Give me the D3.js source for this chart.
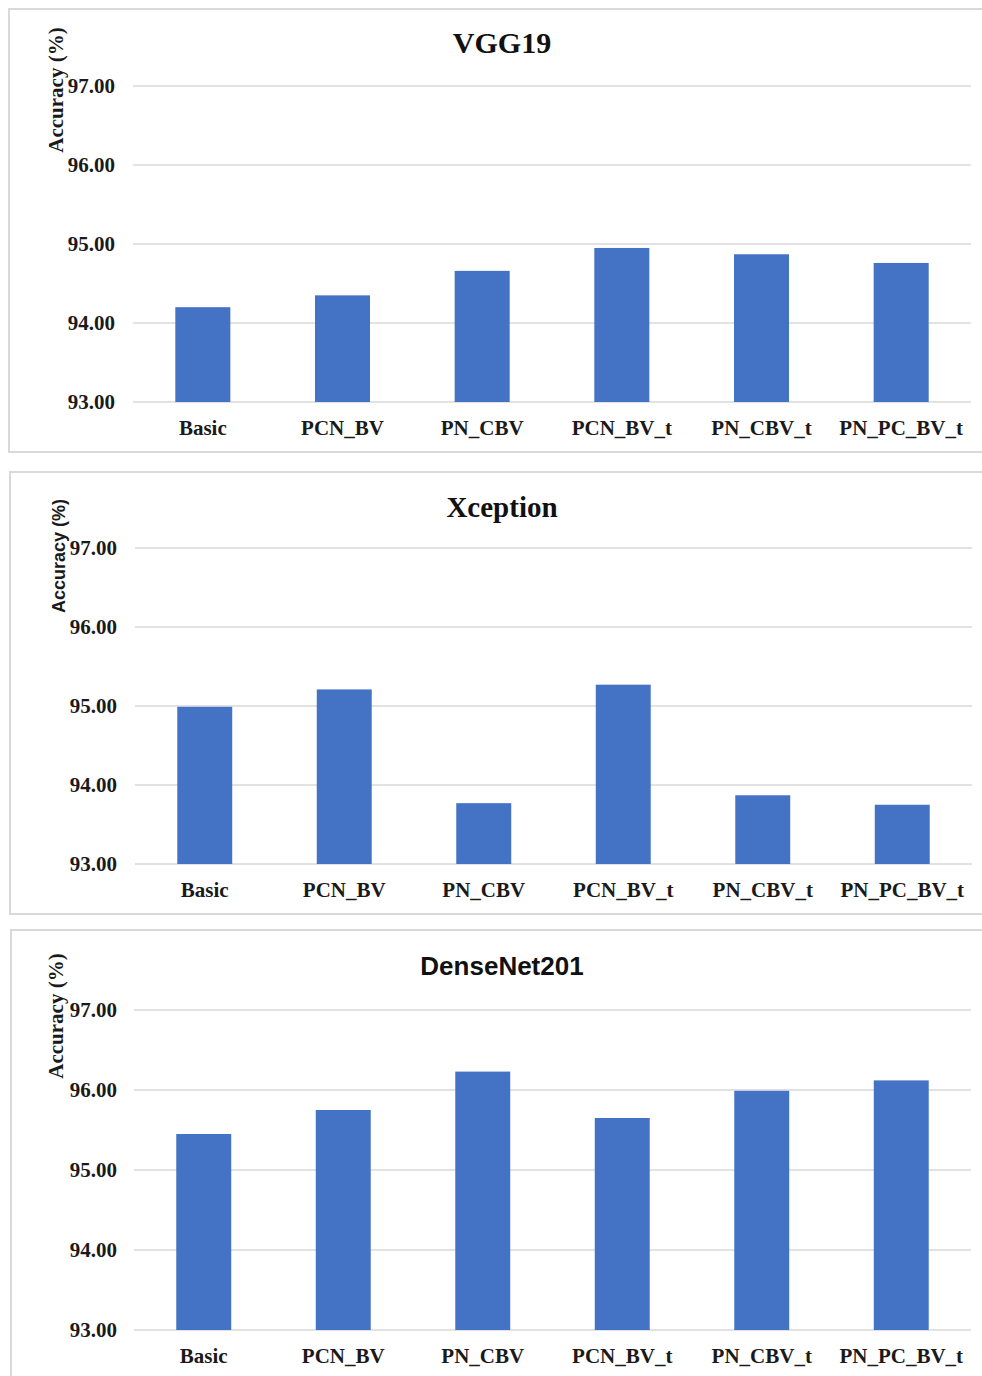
<!DOCTYPE html>
<html>
<head>
<meta charset="utf-8">
<script src="https://cdn.jsdelivr.net/npm/d3@7"></script>
<style>
  html, body { margin: 0; padding: 0; background: #ffffff; }
  svg { display: block; }
</style>
</head>
<body>
<svg id="chart" width="982" height="1376"></svg>
<script>
// ---- data ----
const categories = ["Basic", "PCN_BV", "PN_CBV", "PCN_BV_t", "PN_CBV_t", "PN_PC_BV_t"];
const vgg19Values = [94.20, 94.35, 94.66, 94.95, 94.87, 94.76];
const xceptionValues = [94.99, 95.21, 93.77, 95.27, 93.87, 93.75];
const densenetValues = [95.45, 95.75, 96.23, 95.65, 95.99, 96.12];
const yTicks = [93, 94, 95, 96, 97];
const titles = ["VGG19", "Xception", "DenseNet201"];
const yLabel = "Accuracy (%)";

// ---- layout (per panel) ----
const serif = "'Liberation Serif', 'Times New Roman', serif";
const sans = "'Liberation Sans', Arial, sans-serif";
const panels = [
  { title: titles[0], values: vgg19Values, box: [9, 9, 982, 443], y: [402, 86], x: [133, 971],
    tickRight: 115, titleY: 53, titleFont: serif, titleSize: 30,
    labFont: serif, labSize: 21, labX: 63, labY: 90 },
  { title: titles[1], values: xceptionValues, box: [10, 472, 982, 442], y: [864, 548], x: [135, 972],
    tickRight: 117, titleY: 517, titleFont: serif, titleSize: 29,
    labFont: sans, labSize: 18, labX: 65, labY: 556 },
  { title: titles[2], values: densenetValues, box: [11, 930, 982, 460], y: [1330, 1010], x: [134, 971],
    tickRight: 117, titleY: 975, titleFont: sans, titleSize: 26,
    labFont: serif, labSize: 21, labX: 63, labY: 1016 }
];

const svg = d3.select("#chart");
const grid = "#d9d9d9";
const barColor = "#4472C4";

panels.forEach(p => {
  const g = svg.append("g");
  // frame
  g.append("rect")
    .attr("x", p.box[0]).attr("y", p.box[1])
    .attr("width", p.box[2]).attr("height", p.box[3])
    .attr("fill", "#fff").attr("stroke", grid).attr("stroke-width", 2);

  const y = d3.scaleLinear().domain([93, 97]).range(p.y);
  const x = d3.scaleBand().domain(categories).range(p.x)
    .paddingInner(0.606).paddingOuter(0.303);

  // gridlines
  g.selectAll("line.grid").data(yTicks).join("line")
    .attr("x1", p.x[0]).attr("x2", p.x[1])
    .attr("y1", d => y(d)).attr("y2", d => y(d))
    .attr("stroke", grid).attr("stroke-width", 1.5);

  // y tick labels
  g.selectAll("text.tick").data(yTicks).join("text")
    .attr("x", p.tickRight).attr("y", d => y(d) + 7)
    .attr("text-anchor", "end")
    .attr("font-family", serif).attr("font-weight", "bold").attr("font-size", 21)
    .attr("fill", "#1a1a1a")
    .text(d => d3.format(".2f")(d));

  // bars
  g.selectAll("rect.bar").data(p.values).join("rect")
    .attr("x", (d, i) => x(categories[i]))
    .attr("width", x.bandwidth())
    .attr("y", d => y(d))
    .attr("height", d => y(93) - y(d))
    .attr("fill", barColor);

  // category labels
  g.selectAll("text.cat").data(categories).join("text")
    .attr("x", d => x(d) + x.bandwidth() / 2)
    .attr("y", y(93) + 33)
    .attr("text-anchor", "middle")
    .attr("font-family", serif).attr("font-weight", "bold").attr("font-size", 21)
    .attr("fill", "#1a1a1a")
    .text(d => d);

  // title
  g.append("text")
    .attr("x", 502).attr("y", p.titleY)
    .attr("text-anchor", "middle")
    .attr("font-family", p.titleFont).attr("font-weight", "bold").attr("font-size", p.titleSize)
    .attr("fill", "#111")
    .text(p.title);

  // y axis label
  g.append("text")
    .attr("transform", `translate(${p.labX},${p.labY}) rotate(-90)`)
    .attr("text-anchor", "middle")
    .attr("font-family", p.labFont).attr("font-weight", "bold").attr("font-size", p.labSize)
    .attr("fill", "#1a1a1a")
    .text(yLabel);
});
</script>
</body>
</html>
